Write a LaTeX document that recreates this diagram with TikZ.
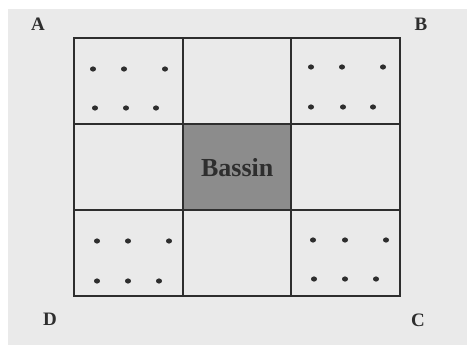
\documentclass[tikz,border=0pt]{standalone}
\usepackage{fontspec}
\setmainfont{Liberation Serif}
\definecolor{paper}{HTML}{EAEAEA}
\definecolor{ink}{HTML}{2E2E2E}
\definecolor{basin}{HTML}{8C8C8C}
\begin{document}
\begin{tikzpicture}[x=1pt,y=-1pt,
  gridline/.style={draw=ink,line width=1.3pt},
  corner/.style={font=\bfseries\fontsize{19}{19}\selectfont,text=ink,inner sep=0pt},
  dot/.style={fill=ink}]
\useasboundingbox (0,0) rectangle (468,346);
\fill[white] (0,0) rectangle (468,346);
\fill[paper] (8,9) rectangle (467,345);
% basin cell
\node[fill=basin,minimum width=108pt,minimum height=86pt,inner sep=0pt,anchor=north west,
      font=\bfseries\fontsize{26}{26}\selectfont,text=ink] (bassin) at (183,124) {Bassin};
% grid
\draw[gridline] (74,38) rectangle (400,296);
\draw[gridline] (183,38) -- (183,296);
\draw[gridline] (291,38) -- (291,296);
\draw[gridline] (74,124) -- (400,124);
\draw[gridline] (74,210) -- (400,210);
% corner labels
\node[corner] (A) at (38,24) {A};
\node[corner] (B) at (421,24) {B};
\node[corner] (C) at (418,320) {C};
\node[corner] (D) at (50,319) {D};
% dots
\foreach \p in {(93,69),(124,69),(165,69),(95,108),(126,108),(156,108),
                (311,67),(342,67),(383,67),(311,107),(343,107),(373,107),
                (97,241),(128,241),(169,241),(97,281),(128,281),(159,281),
                (313,240),(345,240),(386,240),(314,279),(345,279),(376,279)}
  \fill[dot] \p ellipse [x radius=3pt, y radius=2.6pt];
\end{tikzpicture}
\end{document}
